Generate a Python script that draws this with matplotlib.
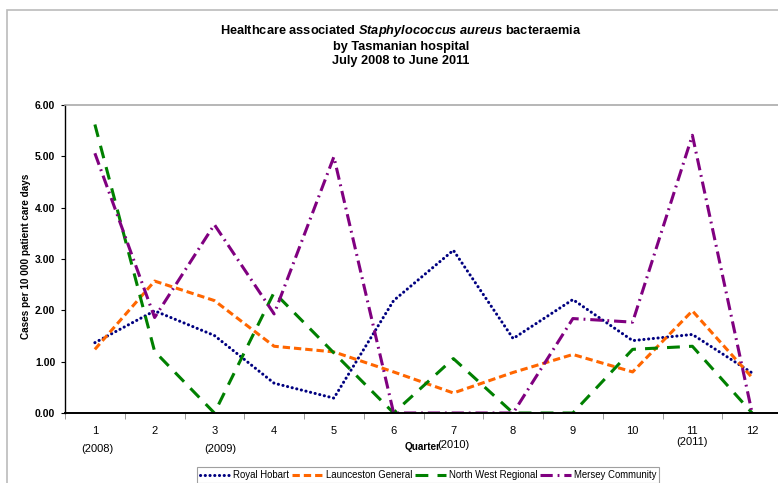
import matplotlib
matplotlib.use("Agg")
import matplotlib.pyplot as plt
from matplotlib.patches import Rectangle

plt.rcParams['font.family'] = ['Liberation Sans', 'DejaVu Sans']
plt.rcParams['mathtext.fontset'] = 'custom'
plt.rcParams['mathtext.it'] = 'Liberation Sans:italic:bold'
plt.rcParams['mathtext.rm'] = 'Liberation Sans:bold'

# quarters 1..12 (July 2008 - June 2011)
quarters = list(range(1, 13))
year_labels = ['(2008)', '(2009)', '(2010)', '(2011)']
year_quarters = [1.05, 3.1, 7, 11]

royal_hobart = [1.37, 1.99, 1.51, 0.58, 0.29, 2.19, 3.17, 1.45, 2.21, 1.41, 1.53, 0.78]
launceston = [1.24, 2.57, 2.19, 1.30, 1.19, 0.80, 0.39, 0.79, 1.14, 0.80, 1.99, 0.69]
north_west = [5.62, 1.20, 0.00, 2.35, 1.17, 0.00, 1.06, 0.00, 0.00, 1.24, 1.30, 0.00]
mersey = [5.06, 1.86, 3.67, 1.93, 4.99, 0.00, 0.00, 0.00, 1.84, 1.77, 5.41, 0.00]

fig = plt.figure(figsize=(7.78, 4.83), dpi=100)

# outer chart frame (cut off at the right and bottom)
fig.patches.append(Rectangle((7 / 778, -0.05), 1.0, 1 - 10 / 483 + 0.05,
                             transform=fig.transFigure, fill=False,
                             edgecolor='#BBBBBB', lw=1.2))

ax = fig.add_axes([65 / 778, 70 / 483, 717 / 778, 308 / 483])

lw = 2.2
ax.plot(quarters, royal_hobart, color='#000080', lw=lw,
        linestyle=(0, (0.05, 1.5)), dash_capstyle='round', label='Royal Hobart')
ax.plot(quarters, launceston, color='#FF6600', lw=lw,
        linestyle=(0, (2.4, 1.3)), label='Launceston General')
ax.plot(quarters, north_west, color='#008000', lw=lw,
        linestyle=(0, (4.2, 3.0)), label='North West Regional')
ax.plot(quarters, mersey, color='#800080', lw=lw,
        linestyle=(0, (4.0, 1.6, 0.6, 1.6)), label='Mersey Community')

ax.set_xlim(0.5, 12.5)
ax.set_ylim(0, 6)
ax.set_yticks(range(0, 7))
ax.set_yticklabels(['%.2f' % v for v in range(0, 7)], fontweight='bold', fontsize=7.5)
ax.set_xticks(quarters)
ax.set_xticklabels([str(q) for q in quarters], fontsize=8)
ax.set_xticks([q + 0.5 for q in range(0, 13)], minor=True)
ax.tick_params(axis='x', which='major', length=0, pad=9)
ax.tick_params(axis='x', which='minor', length=4, color='#888888')
ax.tick_params(axis='y', length=3, pad=4)

ax.spines['top'].set_color('#AAAAAA')
ax.spines['top'].set_linewidth(1.2)
ax.spines['right'].set_visible(False)
ax.spines['left'].set_linewidth(1.0)
ax.spines['bottom'].set_linewidth(1.4)

xt = ax.get_xaxis_transform()
year_y = [-0.117, -0.117, -0.104, -0.094]
for q, lab, yy in zip(year_quarters, year_labels, year_y):
    ax.text(q, yy, lab, transform=xt, ha='center', va='center', fontsize=8)

ax.text(0.499, -0.11, 'Quarter', transform=ax.transAxes, ha='center', va='center',
        fontsize=7.2, fontweight='bold')
ax.set_ylabel('Cases per 10 000 patient care days', fontsize=7.2, fontweight='bold')
ax.yaxis.set_label_coords(-0.047, 0.51)

fig.text(401 / 778, 1 - 45 / 483,
         'Healthcare associated $\\it{Staphylococcus\\ aureus}$ bacteraemia\n'
         'by Tasmanian hospital\nJuly 2008 to June 2011',
         ha='center', va='center', fontsize=9.2, fontweight='bold', linespacing=1.17)

handles = ax.get_lines()
leg = fig.legend(handles, [l.get_label() for l in handles], loc='upper center',
                 bbox_to_anchor=(428 / 778, 1 - 467 / 483), ncol=4, fontsize=6.9,
                 frameon=True, fancybox=False, handlelength=3.2, handletextpad=0.3,
                 columnspacing=0.3, borderpad=0.3, borderaxespad=0)
leg.get_frame().set_edgecolor('#888888')
leg.get_frame().set_linewidth(0.8)

fig.savefig('out.png', dpi=100)
